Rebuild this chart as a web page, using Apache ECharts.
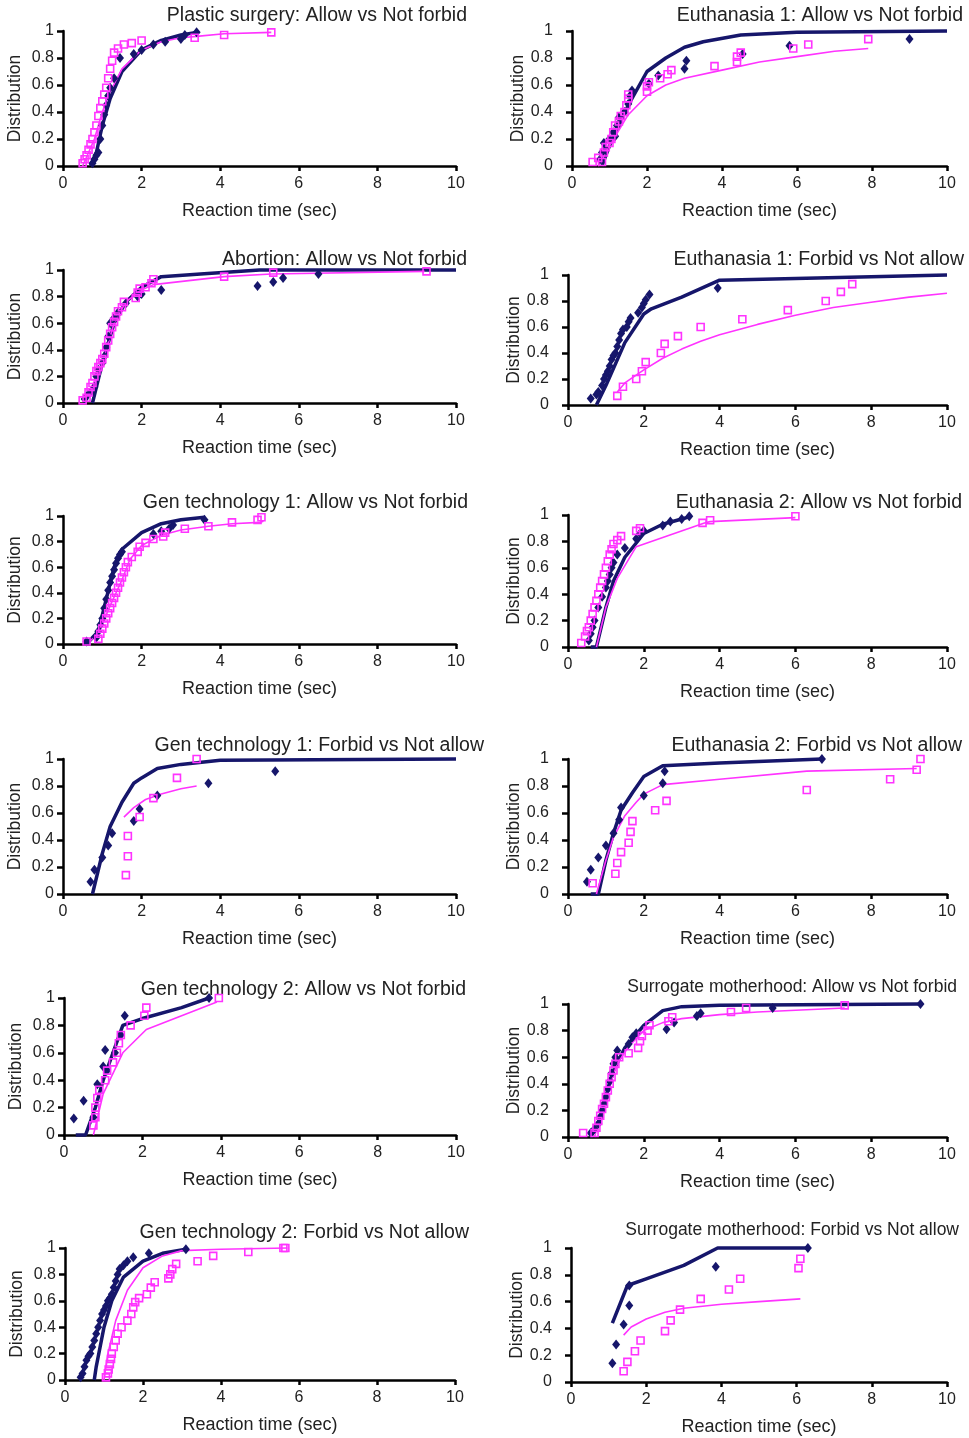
<!DOCTYPE html>
<html>
<head>
<meta charset="utf-8">
<script src="https://cdn.jsdelivr.net/npm/echarts@6/dist/echarts.min.js"></script>
<style>
html,body{margin:0;padding:0;background:#fff;}
#c{width:969px;height:1438px;}
</style>
</head>
<body>
<div id="c"></div>
<script>
// ---------- tick labels / categories ----------
const xTicks = [0, 2, 4, 6, 8, 10];
const yTicks = [0, 0.2, 0.4, 0.6, 0.8, 1];
const panelTitles = [
  "Plastic surgery: Allow vs Not forbid",
  "Euthanasia 1: Allow vs Not forbid",
  "Abortion: Allow vs Not forbid",
  "Euthanasia 1: Forbid vs Not allow",
  "Gen technology 1: Allow vs Not forbid",
  "Euthanasia 2: Allow vs Not forbid",
  "Gen technology 1: Forbid vs Not allow",
  "Euthanasia 2: Forbid vs Not allow",
  "Gen technology 2: Allow vs Not forbid",
  "Surrogate motherhood: Allow vs Not forbid",
  "Gen technology 2: Forbid vs Not allow",
  "Surrogate motherhood: Forbid vs Not allow"
];
const xAxisName = "Reaction time (sec)";
const yAxisName = "Distribution";

// ---------- data: [reaction time, cumulative distribution] ----------
// 1 Plastic surgery
const plasticNavyFit = [[0.7,0],[0.85,0.1],[1.0,0.3],[1.2,0.5],[1.5,0.7],[2,0.86],[2.5,0.93],[3,0.97],[3.4,0.99]];
const plasticPinkFit = [[0.5,0],[0.8,0.2],[1.0,0.4],[1.2,0.55],[1.5,0.72],[2,0.86],[2.5,0.92],[3,0.95],[3.4,0.96],[4.1,0.98],[5.3,0.99]];
const plasticNavyPts = [[0.75,0.02],[0.8,0.05],[0.85,0.08],[0.9,0.1],[0.95,0.2],[1.0,0.3],[1.05,0.38],[1.1,0.45],[1.15,0.52],[1.2,0.58],[1.3,0.65],[1.45,0.8],[1.8,0.83],[2.0,0.86],[2.3,0.9],[2.6,0.92],[3.0,0.94],[3.1,0.97],[3.4,0.99]];
const plasticPinkPts = [[0.5,0.02],[0.55,0.05],[0.6,0.08],[0.65,0.12],[0.7,0.16],[0.75,0.2],[0.8,0.25],[0.85,0.3],[0.9,0.37],[0.95,0.43],[1.0,0.48],[1.05,0.53],[1.1,0.58],[1.15,0.65],[1.2,0.72],[1.25,0.78],[1.3,0.84],[1.4,0.87],[1.55,0.9],[1.75,0.91],[2.0,0.93],[3.35,0.95],[4.1,0.97],[5.3,0.99]];
// 2 Euthanasia 1 Allow
const euth1AllowNavyFit = [[0.8,0],[1,0.15],[1.5,0.45],[2,0.7],[2.5,0.8],[3,0.88],[3.5,0.92],[4.5,0.97],[6,0.99],[10,1.0]];
const euth1AllowPinkFit = [[0.7,0],[1,0.15],[1.5,0.38],[2,0.52],[2.5,0.6],[3,0.65],[4,0.71],[5,0.77],[6,0.81],[7,0.85],[7.9,0.87]];
const euth1AllowNavyPts = [[0.75,0.05],[0.8,0.1],[0.85,0.17],[0.9,0.12],[1.0,0.2],[1.1,0.25],[1.15,0.22],[1.2,0.3],[1.25,0.36],[1.4,0.4],[1.5,0.46],[1.55,0.52],[1.6,0.56],[2.05,0.61],[2.3,0.67],[3.0,0.72],[3.05,0.78],[4.55,0.83],[5.8,0.89],[9.0,0.94]];
const euth1AllowPinkPts = [[0.55,0.03],[0.7,0.06],[0.8,0.03],[0.85,0.1],[0.9,0.14],[1.0,0.17],[1.05,0.2],[1.1,0.25],[1.15,0.3],[1.25,0.33],[1.3,0.37],[1.4,0.4],[1.45,0.45],[1.5,0.5],[1.5,0.53],[2.0,0.55],[2.0,0.59],[2.05,0.62],[2.35,0.65],[2.55,0.68],[2.65,0.71],[3.8,0.74],[4.4,0.77],[4.4,0.81],[4.5,0.84],[5.9,0.87],[6.3,0.9],[7.9,0.94]];
// 3 Abortion
const abortionNavyFit = [[0.75,0],[1,0.3],[1.3,0.6],[1.6,0.76],[2,0.87],[2.5,0.95],[3.5,0.97],[5,1.0],[10,1.0]];
const abortionPinkFit = [[0.5,0.02],[0.7,0.1],[1,0.3],[1.3,0.6],[1.6,0.76],[2,0.85],[2.3,0.89],[4.1,0.95],[5.3,0.97],[9.2,0.99]];
const abortionNavyPts = [[0.55,0.03],[0.6,0.05],[0.7,0.08],[0.8,0.12],[0.85,0.2],[0.9,0.25],[1.0,0.3],[1.05,0.35],[1.1,0.42],[1.15,0.5],[1.2,0.6],[1.3,0.64],[1.4,0.68],[1.6,0.75],[1.9,0.8],[2.0,0.82],[2.5,0.85],[4.95,0.88],[5.35,0.91],[5.6,0.94],[6.5,0.97]];
const abortionPinkPts = [[0.5,0.02],[0.6,0.04],[0.65,0.08],[0.7,0.12],[0.75,0.15],[0.8,0.2],[0.85,0.24],[0.9,0.27],[0.95,0.3],[1.0,0.33],[1.05,0.37],[1.1,0.42],[1.15,0.47],[1.2,0.52],[1.25,0.57],[1.3,0.61],[1.35,0.65],[1.4,0.69],[1.5,0.72],[1.55,0.76],[1.85,0.79],[1.9,0.83],[1.95,0.86],[2.1,0.87],[2.25,0.9],[2.3,0.93],[4.1,0.95],[5.35,0.98],[9.25,0.99]];
// 4 Euthanasia 1 Forbid
const euth1ForbidNavyFit = [[0.75,0],[1,0.15],[1.5,0.48],[2,0.7],[2.2,0.74],[3,0.83],[4,0.96],[10,1.0]];
const euth1ForbidPinkFit = [[1.3,0.1],[1.5,0.17],[2,0.27],[2.5,0.36],[3,0.43],[3.5,0.49],[4,0.54],[5,0.62],[6,0.69],[7,0.75],[8,0.79],[9,0.83],[10,0.86]];
const euth1ForbidNavyPts = [[0.6,0.05],[0.75,0.08],[0.8,0.1],[0.9,0.15],[0.95,0.2],[1.0,0.23],[1.05,0.26],[1.1,0.3],[1.15,0.35],[1.2,0.38],[1.25,0.4],[1.3,0.45],[1.35,0.5],[1.4,0.55],[1.45,0.58],[1.55,0.6],[1.6,0.64],[1.65,0.67],[1.85,0.71],[1.95,0.75],[2.0,0.78],[2.05,0.81],[2.15,0.85],[3.95,0.9]];
const euth1ForbidPinkPts = [[1.3,0.07],[1.45,0.14],[1.8,0.2],[1.95,0.26],[2.05,0.33],[2.45,0.4],[2.55,0.47],[2.9,0.53],[3.5,0.6],[4.6,0.66],[5.8,0.73],[6.8,0.8],[7.2,0.87],[7.5,0.93]];
// 5 Gen technology 1 Allow
const gen1AllowNavyFit = [[0.6,0],[0.9,0.1],[1.1,0.35],[1.3,0.6],[1.5,0.74],[2,0.87],[2.5,0.94],[3,0.97],[3.6,0.99]];
const gen1AllowPinkFit = [[0.6,0],[0.9,0.08],[1.2,0.3],[1.5,0.5],[1.7,0.66],[2,0.77],[2.5,0.85],[3,0.89],[3.7,0.92],[4.3,0.94],[5.0,0.95],[5.1,0.96]];
const gen1AllowNavyPts = [[0.6,0.02],[0.85,0.05],[0.9,0.1],[0.95,0.15],[1.0,0.2],[1.05,0.28],[1.1,0.35],[1.15,0.42],[1.2,0.48],[1.25,0.53],[1.3,0.58],[1.35,0.63],[1.4,0.67],[1.45,0.7],[1.5,0.72],[2.3,0.86],[2.5,0.88],[2.7,0.9],[2.8,0.93],[3.6,0.97]];
const gen1AllowPinkPts = [[0.6,0.02],[0.9,0.04],[0.95,0.08],[1.0,0.12],[1.05,0.16],[1.1,0.2],[1.15,0.24],[1.2,0.28],[1.25,0.32],[1.3,0.36],[1.35,0.4],[1.4,0.44],[1.45,0.48],[1.5,0.52],[1.55,0.56],[1.6,0.6],[1.65,0.64],[1.75,0.68],[1.9,0.72],[1.95,0.76],[2.1,0.79],[2.3,0.82],[2.55,0.84],[2.6,0.87],[3.1,0.9],[3.7,0.92],[4.3,0.95],[4.95,0.97],[5.05,0.99]];
// 6 Euthanasia 2 Allow
const euth2AllowNavyFit = [[0.6,0],[0.75,0],[1,0.3],[1.2,0.5],[1.5,0.68],[2,0.86],[2.5,0.93],[3,0.97],[3.25,0.99]];
const euth2AllowPinkFit = [[0.75,0],[1.0,0.3],[1.3,0.52],[1.8,0.76],[3.6,0.94],[3.75,0.95],[6.0,0.98]];
const euth2AllowNavyPts = [[0.55,0.05],[0.6,0.1],[0.65,0.15],[0.7,0.2],[0.8,0.3],[0.9,0.38],[1.0,0.45],[1.05,0.5],[1.1,0.55],[1.15,0.6],[1.2,0.64],[1.3,0.7],[1.5,0.75],[1.8,0.82],[1.9,0.86],[2.0,0.88],[2.5,0.92],[2.7,0.95],[3.0,0.97],[3.2,0.99]];
const euth2AllowPinkPts = [[0.35,0.03],[0.45,0.08],[0.5,0.12],[0.55,0.15],[0.6,0.2],[0.65,0.25],[0.7,0.3],[0.75,0.35],[0.8,0.4],[0.85,0.45],[0.9,0.5],[0.95,0.55],[1.0,0.6],[1.05,0.65],[1.1,0.7],[1.15,0.74],[1.2,0.78],[1.3,0.81],[1.4,0.84],[1.8,0.88],[1.9,0.9],[3.55,0.94],[3.75,0.96],[6.0,0.99]];
// 7 Gen technology 1 Forbid
const gen1ForbidNavyFit = [[0.75,0],[1,0.3],[1.2,0.5],[1.5,0.68],[1.8,0.82],[2,0.86],[2.4,0.93],[3,0.96],[4,0.99],[10,1.0]];
const gen1ForbidPinkFit = [[1.55,0.57],[1.8,0.64],[2.1,0.7],[2.5,0.74],[3,0.78],[3.4,0.8]];
const gen1ForbidNavyPts = [[0.7,0.09],[0.8,0.18],[1.0,0.27],[1.15,0.36],[1.25,0.45],[1.8,0.54],[1.95,0.63],[2.4,0.73],[3.7,0.82],[5.4,0.91]];
const gen1ForbidPinkPts = [[1.6,0.14],[1.65,0.28],[1.65,0.43],[1.95,0.57],[2.3,0.71],[2.9,0.86],[3.4,1.0]];
// 8 Euthanasia 2 Forbid
const euth2ForbidNavyFit = [[0.6,0],[0.8,0],[1,0.25],[1.2,0.45],[1.4,0.62],[1.7,0.75],[2,0.87],[2.5,0.95],[4,0.97],[6.7,1.0]];
const euth2ForbidPinkFit = [[0.75,0],[1,0.25],[1.2,0.42],[1.5,0.58],[1.8,0.68],[2,0.74],[2.5,0.81],[4,0.85],[6.3,0.91],[9.2,0.93]];
const euth2ForbidNavyPts = [[0.5,0.09],[0.6,0.18],[0.8,0.27],[1.0,0.36],[1.2,0.45],[1.35,0.55],[1.4,0.64],[2.0,0.73],[2.5,0.82],[2.55,0.91],[6.7,1.0]];
const euth2ForbidPinkPts = [[0.65,0.08],[1.25,0.15],[1.3,0.23],[1.4,0.31],[1.6,0.38],[1.65,0.46],[1.7,0.54],[2.3,0.62],[2.6,0.69],[6.3,0.77],[8.5,0.85],[9.2,0.92],[9.3,1.0]];
// 9 Gen technology 2 Allow
const gen2AllowNavyFit = [[0.3,0],[0.55,0],[0.8,0.2],[1.0,0.4],[1.2,0.56],[1.5,0.8],[2,0.85],[3,0.93],[3.7,1.0]];
const gen2AllowPinkFit = [[0.75,0],[1.0,0.3],[1.5,0.6],[2.1,0.77],[3,0.87],[3.9,0.97]];
const gen2AllowNavyPts = [[0.25,0.12],[0.5,0.25],[0.75,0.13],[0.85,0.37],[1.0,0.5],[1.05,0.62],[1.1,0.47],[1.3,0.6],[1.45,0.73],[1.55,0.87],[3.7,1.0]];
const gen2AllowPinkPts = [[0.75,0.07],[0.8,0.13],[0.8,0.2],[0.85,0.27],[0.9,0.33],[1.05,0.4],[1.1,0.47],[1.25,0.53],[1.35,0.6],[1.4,0.67],[1.45,0.73],[1.7,0.8],[2.05,0.87],[2.1,0.93],[3.95,1.0]];
// 10 Surrogate motherhood Allow
const surAllowNavyFit = [[0.6,0],[0.8,0.1],[1.0,0.3],[1.2,0.5],[1.5,0.67],[2,0.84],[2.5,0.95],[3,0.98],[4,0.99],[9.3,1.0]];
const surAllowPinkFit = [[0.7,0],[1.0,0.3],[1.3,0.55],[1.6,0.68],[2,0.8],[2.5,0.86],[3,0.89],[4,0.92],[5,0.94],[7.3,0.97]];
const surAllowNavyPts = [[0.6,0.03],[0.7,0.06],[0.8,0.1],[0.85,0.15],[0.9,0.2],[0.95,0.25],[1.0,0.3],[1.05,0.36],[1.1,0.42],[1.15,0.48],[1.2,0.55],[1.25,0.6],[1.3,0.65],[1.6,0.7],[1.7,0.75],[1.8,0.78],[2.6,0.81],[2.8,0.86],[3.4,0.91],[3.5,0.93],[5.4,0.97],[9.3,1.0]];
const surAllowPinkPts = [[0.4,0.03],[0.7,0.03],[0.75,0.07],[0.8,0.12],[0.85,0.16],[0.9,0.21],[0.95,0.25],[1.0,0.3],[1.05,0.35],[1.1,0.4],[1.15,0.45],[1.2,0.5],[1.25,0.55],[1.35,0.6],[1.6,0.63],[1.85,0.67],[1.9,0.72],[1.95,0.76],[2.1,0.8],[2.15,0.84],[2.65,0.87],[2.75,0.9],[4.3,0.94],[4.7,0.97],[7.3,0.99]];
// 11 Gen technology 2 Forbid
const gen2ForbidNavyFit = [[0.75,0],[0.8,0.1],[1.0,0.4],[1.2,0.6],[1.5,0.78],[2,0.9],[2.5,0.96],[3.1,0.99]];
const gen2ForbidPinkFit = [[1.0,0],[1.1,0.2],[1.3,0.45],[1.6,0.68],[2,0.85],[2.5,0.94],[3,0.98],[4,0.99],[5.7,1.0]];
const gen2ForbidNavyPts = [[0.4,0.02],[0.45,0.05],[0.5,0.1],[0.55,0.15],[0.6,0.18],[0.65,0.2],[0.7,0.25],[0.75,0.3],[0.8,0.35],[0.85,0.4],[0.9,0.45],[0.95,0.5],[1.0,0.53],[1.05,0.56],[1.1,0.6],[1.15,0.62],[1.2,0.65],[1.25,0.7],[1.3,0.75],[1.35,0.8],[1.4,0.84],[1.5,0.87],[1.6,0.9],[1.75,0.93],[2.15,0.96],[3.1,0.99]];
const gen2ForbidPinkPts = [[1.05,0.02],[1.1,0.05],[1.12,0.08],[1.15,0.12],[1.18,0.16],[1.2,0.2],[1.25,0.25],[1.3,0.3],[1.35,0.35],[1.45,0.4],[1.6,0.45],[1.7,0.5],[1.75,0.55],[1.8,0.59],[1.9,0.62],[2.1,0.65],[2.2,0.7],[2.3,0.74],[2.65,0.77],[2.7,0.8],[2.75,0.84],[2.85,0.88],[3.4,0.9],[3.8,0.94],[4.7,0.97],[5.6,1.0],[5.65,1.0]];
// 12 Surrogate motherhood Forbid
const surForbidNavyFit = [[1.1,0.44],[1.5,0.72],[2,0.77],[3,0.87],[3.9,1.0],[6.3,1.0]];
const surForbidPinkFit = [[1.4,0.35],[1.6,0.41],[2,0.47],[2.5,0.52],[3,0.55],[4,0.58],[5,0.6],[6.1,0.62]];
const surForbidNavyPts = [[1.1,0.14],[1.2,0.28],[1.4,0.43],[1.55,0.57],[1.55,0.72],[3.85,0.86],[6.3,1.0]];
const surForbidPinkPts = [[1.4,0.08],[1.5,0.15],[1.7,0.23],[1.85,0.31],[2.5,0.38],[2.65,0.46],[2.9,0.54],[3.45,0.62],[4.2,0.69],[4.5,0.77],[6.05,0.85],[6.1,0.92]];

const panelData = [
  [plasticNavyFit, plasticPinkFit, plasticNavyPts, plasticPinkPts],
  [euth1AllowNavyFit, euth1AllowPinkFit, euth1AllowNavyPts, euth1AllowPinkPts],
  [abortionNavyFit, abortionPinkFit, abortionNavyPts, abortionPinkPts],
  [euth1ForbidNavyFit, euth1ForbidPinkFit, euth1ForbidNavyPts, euth1ForbidPinkPts],
  [gen1AllowNavyFit, gen1AllowPinkFit, gen1AllowNavyPts, gen1AllowPinkPts],
  [euth2AllowNavyFit, euth2AllowPinkFit, euth2AllowNavyPts, euth2AllowPinkPts],
  [gen1ForbidNavyFit, gen1ForbidPinkFit, gen1ForbidNavyPts, gen1ForbidPinkPts],
  [euth2ForbidNavyFit, euth2ForbidPinkFit, euth2ForbidNavyPts, euth2ForbidPinkPts],
  [gen2AllowNavyFit, gen2AllowPinkFit, gen2AllowNavyPts, gen2AllowPinkPts],
  [surAllowNavyFit, surAllowPinkFit, surAllowNavyPts, surAllowPinkPts],
  [gen2ForbidNavyFit, gen2ForbidPinkFit, gen2ForbidNavyPts, gen2ForbidPinkPts],
  [surForbidNavyFit, surForbidPinkFit, surForbidNavyPts, surForbidPinkPts]
];

// ---------- layout (pixels): plot box [x0, yTop, x10, yBottom] ----------
const plotBoxes = [
  [63, 31, 456, 166], [572, 31, 947, 166],
  [63, 270, 456, 403], [568, 275, 947, 405],
  [63, 516, 456, 644], [568, 515, 947, 647],
  [63, 759, 456, 894], [568, 759, 947, 894],
  [64, 998, 456, 1135], [568, 1004, 947, 1137],
  [65, 1248, 455, 1380], [571, 1248, 947, 1382]
];
// title: [right edge x, centre y, font size]
const titleBoxes = [
  [467, 14, 19.5], [963, 14, 19.5],
  [467, 258, 19.5], [964, 258, 19.5],
  [468, 501, 19.5], [962, 501, 19.5],
  [484, 744, 19.5], [962, 744, 19.5],
  [466, 988, 19.5], [957, 986, 17.5],
  [469, 1231, 19.5], [959, 1229, 17.5]
];

const NAVY = '#16166b';
const PINK = '#ff33ff';
const TEXT = '#222';
const FONT = '"Liberation Sans", Arial, sans-serif';

const chart = echarts.init(document.getElementById('c'), null, {renderer: 'canvas'});

const grid = [], xAxis = [], yAxis = [], title = [], series = [];
plotBoxes.forEach((b, i) => {
  const rightCol = i % 2 === 1;
  grid.push({left: b[0], top: b[1], width: b[2] - b[0], height: b[3] - b[1], containLabel: false});
  const t = titleBoxes[i];
  title.push({
    text: panelTitles[i],
    right: 969 - t[0],
    top: t[1] - t[2] / 2 + 1,
    padding: 0,
    textStyle: {fontFamily: FONT, fontSize: t[2], fontWeight: 'normal', color: TEXT}
  });
  xAxis.push({
    gridIndex: i, type: 'value', min: xTicks[0], max: xTicks[xTicks.length - 1],
    interval: xTicks[1] - xTicks[0],
    name: xAxisName, nameLocation: 'middle', nameGap: 36,
    nameTextStyle: {fontFamily: FONT, fontSize: 18, color: TEXT},
    axisLine: {show: true, onZero: false, lineStyle: {color: '#000', width: 2.5}},
    axisTick: {show: true, inside: false, length: 5, lineStyle: {color: '#000', width: 2.5}},
    axisLabel: {fontFamily: FONT, fontSize: 16, color: TEXT, margin: 10},
    splitLine: {show: false}
  });
  yAxis.push({
    gridIndex: i, type: 'value', min: yTicks[0], max: yTicks[yTicks.length - 1],
    interval: yTicks[1] - yTicks[0],
    name: yAxisName, nameLocation: 'middle', nameGap: rightCol ? 45 : 39,
    nameTextStyle: {fontFamily: FONT, fontSize: 17.5, color: TEXT},
    axisLine: {show: true, onZero: false, lineStyle: {color: '#000', width: 2.5}},
    axisTick: {show: true, inside: false, length: 6, lineStyle: {color: '#000', width: 2.5}},
    axisLabel: {fontFamily: FONT, fontSize: 16, color: TEXT, margin: rightCol ? 19 : 9,
      formatter: v => String(+v.toFixed(1))},
    splitLine: {show: false}
  });
  const d = panelData[i];
  series.push({
    type: 'line', xAxisIndex: i, yAxisIndex: i, data: d[0], showSymbol: false, symbol: 'none',
    lineStyle: {color: NAVY, width: 3.5}, z: 3, silent: true, clip: false, animation: false
  });
  series.push({
    type: 'line', xAxisIndex: i, yAxisIndex: i, data: d[1], showSymbol: false, symbol: 'none',
    lineStyle: {color: PINK, width: 1.6}, z: 4, silent: true, clip: false, animation: false
  });
  series.push({
    type: 'scatter', xAxisIndex: i, yAxisIndex: i, data: d[2], symbol: 'diamond', symbolSize: [8, 10],
    itemStyle: {color: NAVY, opacity: 1}, z: 5, silent: true, animation: false
  });
  series.push({
    type: 'scatter', xAxisIndex: i, yAxisIndex: i, data: d[3], symbol: 'rect', symbolSize: 7,
    itemStyle: {color: 'rgba(255,255,255,0)', borderColor: PINK, borderWidth: 1.6, opacity: 1}, z: 6, silent: true, animation: false
  });
});

chart.setOption({
  backgroundColor: '#fff',
  animation: false,
  title, grid, xAxis, yAxis, series
});
</script>
</body>
</html>
